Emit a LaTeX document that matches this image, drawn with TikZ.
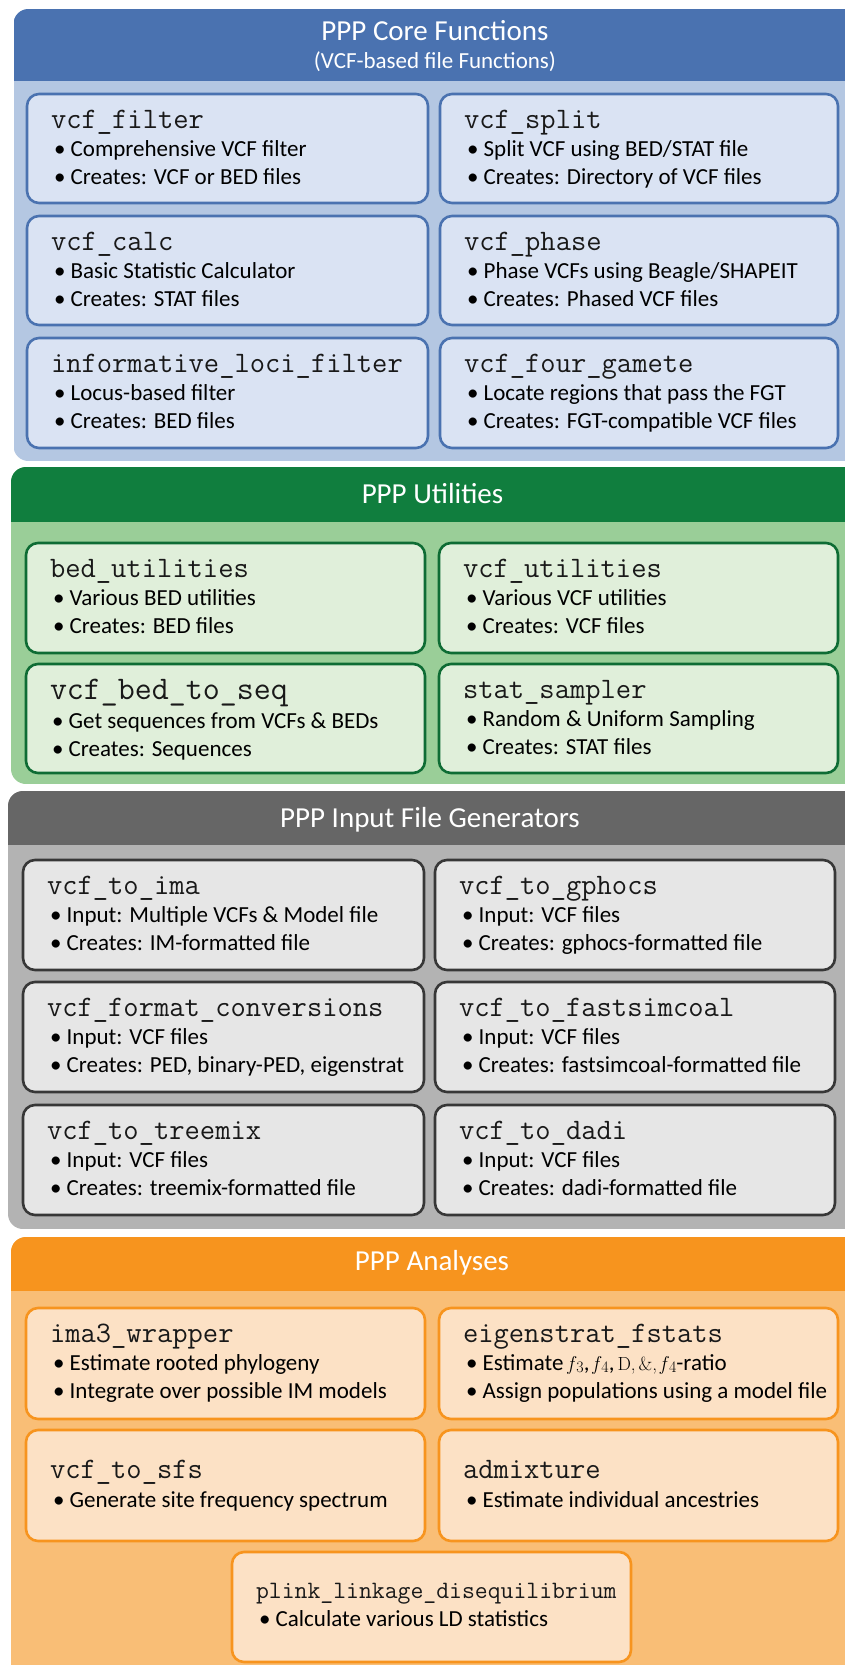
\documentclass[tikz,border=0pt]{standalone}
\usepackage{fontspec}
\newfontfamily\calib{Carlito}
\definecolor{bluehead}{RGB}{74,114,176}
\definecolor{bluebody}{RGB}{180,199,226}
\definecolor{bluefill}{RGB}{218,227,243}
\definecolor{blueline}{RGB}{74,114,176}
\definecolor{greenhead}{RGB}{16,126,62}
\definecolor{greenbody}{RGB}{154,206,152}
\definecolor{greenfill}{RGB}{224,239,218}
\definecolor{greenline}{RGB}{14,108,52}
\definecolor{grayhead}{RGB}{102,102,102}
\definecolor{graybody}{RGB}{179,179,179}
\definecolor{grayfill}{RGB}{230,230,230}
\definecolor{grayline}{RGB}{55,55,55}
\definecolor{orangehead}{RGB}{247,148,30}
\definecolor{orangebody}{RGB}{249,190,118}
\definecolor{orangefill}{RGB}{252,225,197}
\definecolor{orangeline}{RGB}{247,148,30}
\tikzset{
  every node/.style={inner sep=0pt, outer sep=0pt},
  fnbox/.style={draw, line width=2.6pt, rounded corners=12pt, anchor=north west},
  bluebx/.style={fnbox, fill=bluefill, draw=blueline},
  greenbx/.style={fnbox, fill=greenfill, draw=greenline},
  graybx/.style={fnbox, fill=grayfill, draw=grayline},
  orangebx/.style={fnbox, fill=orangefill, draw=orangeline},
  fname/.style={font=\ttfamily\fontsize{29.7}{34}\selectfont, text=black!90, anchor=base west},
  fline/.style={font=\calib\fontsize{23}{27}\selectfont, text=black, anchor=base west},
  ptitle/.style={font=\calib\fontsize{29}{34}\selectfont, text=white, anchor=base},
  psub/.style={font=\calib\fontsize{23}{27}\selectfont, text=white, anchor=base},
}
% #1 style, #2 name, #3 x, #4 y, #5 w, #6 h, #7 title, #8 line1, #9 line2
\newcommand\fnentry[9]{%
  \node[#1, minimum width=#5pt, minimum height=#6pt] (#2) at (#3,#4) {};
  \node[fname] (#2-n) at ([xshift=24pt,yshift=-34pt]#2.north west) {#7};
  \node[fline] (#2-a) at ([xshift=27pt,yshift=-62pt]#2.north west) {• #8};
  \node[fline] (#2-b) at ([xshift=27pt,yshift=-90pt]#2.north west) {• #9};
}
% #1 body colour, #2 head colour, #3 x0, #4 y0, #5 y1, #6 header bottom
\newcommand\panelbg[6]{%
  \begin{scope}
    \clip[rounded corners=15pt] (#3,#4) rectangle (860,#5);
    \fill[#1] (#3,#4) rectangle (860,#5);
    \fill[#2] (#3,#4) rectangle (860,#6);
  \end{scope}
}
\newcommand\fsub[1]{{\rmfamily\fontsize{20}{22}\selectfont\itshape f\/}\raisebox{-0.1em}{\rmfamily\fontsize{16}{18}\selectfont #1}}
\newcommand\serifsm[1]{{\rmfamily\fontsize{19}{22}\selectfont #1}}
\begin{document}
\begin{tikzpicture}[x=1pt, y=-1pt]
\useasboundingbox (0,0) rectangle (844,1665);
\fill[white] (0,0) rectangle (844,1665);

% ---------------- Core functions
\panelbg{bluebody}{bluehead}{13.5}{9}{461}{81}
\node[ptitle] (coretitle) at (435,40) {PPP Core Functions};
\node[psub] (coresub) at (435,68) {(VCF-based file Functions)};
\fnentry{bluebx}{filter}{27}{94}{401}{109}{vcf\_filter}{Comprehensive VCF filter}{Creates: VCF or BED files}
\fnentry{bluebx}{split}{440}{94}{398}{109}{vcf\_split}{Split VCF using BED/STAT file}{Creates: Directory of VCF files}
\fnentry{bluebx}{calc}{27}{216}{401}{109}{vcf\_calc}{Basic Statistic Calculator}{Creates: STAT files}
\fnentry{bluebx}{phase}{440}{216}{398}{109}{vcf\_phase}{Phase VCFs using Beagle/SHAPEIT}{Creates: Phased VCF files}
\fnentry{bluebx}{infoloci}{27}{338}{401}{110}{informative\_loci\_filter}{Locus-based filter}{Creates: BED files}
\fnentry{bluebx}{fourgam}{440}{338}{398}{110}{vcf\_four\_gamete}{Locate regions that pass the FGT}{Creates: FGT-compatible VCF files}

% ---------------- Utilities
\panelbg{greenbody}{greenhead}{11}{467}{784}{522}
\node[ptitle] (utiltitle) at (432.5,503) {PPP Utilities};
\fnentry{greenbx}{bedutil}{26}{543}{399}{110}{bed\_utilities}{Various BED utilities}{Creates: BED files}
\fnentry{greenbx}{vcfutil}{439}{543}{399}{110}{vcf\_utilities}{Various VCF utilities}{Creates: VCF files}
\node[greenbx, minimum width=399pt, minimum height=109pt] (bedseq) at (26,664) {};
\node[fname, font=\ttfamily\fontsize{33}{37}\selectfont] (bedseq-n) at ([xshift=24pt,yshift=-35pt]bedseq.north west) {vcf\_bed\_to\_seq};
\node[fline] (bedseq-a) at ([xshift=26pt,yshift=-64pt]bedseq.north west) {• Get sequences from VCFs \& BEDs};
\node[fline] (bedseq-b) at ([xshift=26pt,yshift=-92pt]bedseq.north west) {• Creates: Sequences};
\fnentry{greenbx}{sampler}{439}{664}{399}{109}{stat\_sampler}{Random \& Uniform Sampling}{Creates: STAT files}

% ---------------- Input file generators
\panelbg{graybody}{grayhead}{8}{791}{1229}{845}
\node[ptitle] (gentitle) at (430,827) {PPP Input File Generators};
\fnentry{graybx}{toima}{23}{860}{401}{110}{vcf\_to\_ima}{Input: Multiple VCFs \& Model file}{Creates: IM-formatted file}
\fnentry{graybx}{togphocs}{435}{860}{400}{110}{vcf\_to\_gphocs}{Input: VCF files}{Creates: gphocs-formatted file}
\fnentry{graybx}{formconv}{23}{982}{401}{110}{vcf\_format\_conversions}{Input: VCF files}{Creates: PED, binary-PED, eigenstrat}
\fnentry{graybx}{tofsc}{435}{982}{400}{110}{vcf\_to\_fastsimcoal}{Input: VCF files}{Creates: fastsimcoal-formatted file}
\fnentry{graybx}{totreemix}{23}{1105}{401}{110}{vcf\_to\_treemix}{Input: VCF files}{Creates: treemix-formatted file}
\fnentry{graybx}{todadi}{435}{1105}{400}{110}{vcf\_to\_dadi}{Input: VCF files}{Creates: dadi-formatted file}

% ---------------- Analyses
\panelbg{orangebody}{orangehead}{11}{1237}{1685}{1291}
\node[ptitle] (anatitle) at (432,1270) {PPP Analyses};
\fnentry{orangebx}{ima3}{26}{1308}{399}{111}{ima3\_wrapper}{Estimate rooted phylogeny}{Integrate over possible IM models}
\fnentry{orangebx}{fstats}{439}{1308}{399}{111}{eigenstrat\_fstats}{Estimate\hspace{4pt}\fsub{3},\hspace{3pt}\fsub{4},\hspace{3pt}\serifsm{D,\hspace{3pt}\&,}\hspace{3pt}\fsub{4}-ratio}{Assign populations using a model file}
\node[orangebx, minimum width=399pt, minimum height=111pt] (tosfs) at (26,1430) {};
\node[fname] (tosfs-n) at ([xshift=24pt,yshift=-48pt]tosfs.north west) {vcf\_to\_sfs};
\node[fline] (tosfs-a) at ([xshift=27pt,yshift=-77pt]tosfs.north west) {• Generate site frequency spectrum};
\node[orangebx, minimum width=399pt, minimum height=111pt] (admix) at (439,1430) {};
\node[fname] (admix-n) at ([xshift=24pt,yshift=-48pt]admix.north west) {admixture};
\node[fline] (admix-a) at ([xshift=27pt,yshift=-77pt]admix.north west) {• Estimate individual ancestries};
\node[orangebx, minimum width=399pt, minimum height=110pt] (plink) at (232,1552) {};
\node[fname, font=\ttfamily\fontsize{25}{29}\selectfont] (plink-n) at ([xshift=24pt,yshift=-46pt]plink.north west) {plink\_linkage\_disequilibrium};
\node[fline] (plink-a) at ([xshift=27pt,yshift=-74pt]plink.north west) {• Calculate various LD statistics};
\end{tikzpicture}
\end{document}
